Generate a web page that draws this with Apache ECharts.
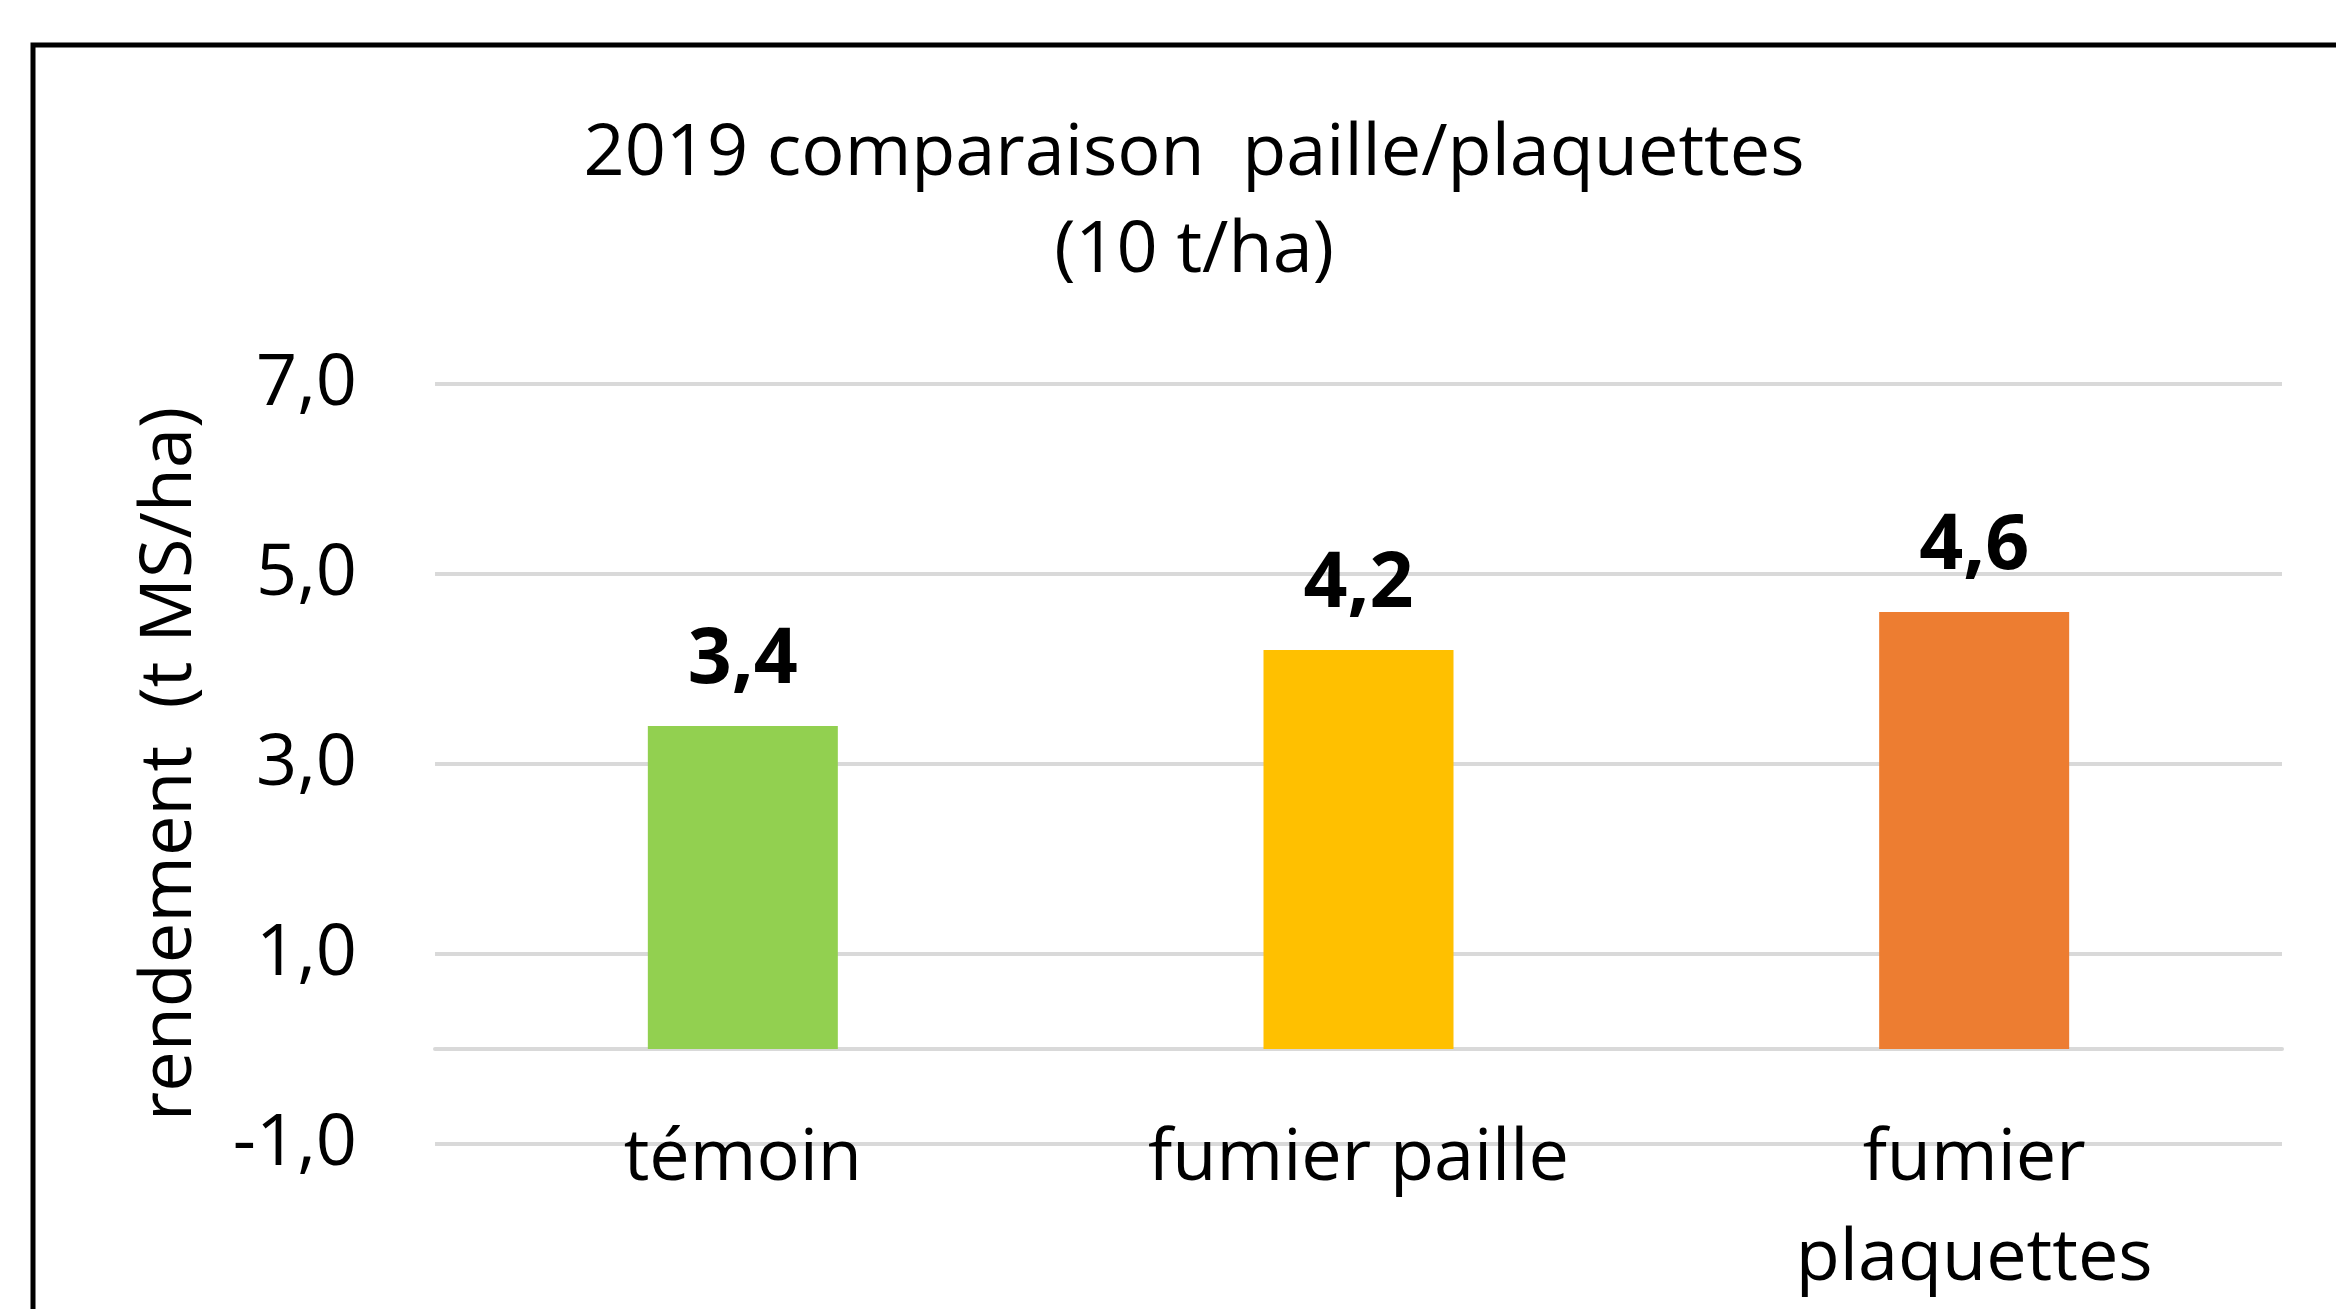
<!DOCTYPE html>
<html><head><meta charset="utf-8">
<script src="https://cdn.jsdelivr.net/npm/echarts@6/dist/echarts.min.js"></script>
<style>html,body{margin:0;padding:0;background:#fff}#c{width:2336px;height:1309px}</style>
</head><body><div id="c"></div>
<script>
const categories = ['témoin', 'fumier paille', 'fumier\nplaquettes'];
const values = [3.4, 4.2, 4.6];
const barColors = ['#92D050', '#FFC000', '#ED7D31'];
const titleText = '2019 comparaison  paille/plaquettes\n(10 t/ha)';
const yAxisName = 'rendement  (t MS/ha)';

const FONT = 'Open Sans';
const chart = echarts.init(document.getElementById('c'));
chart.setOption({
  backgroundColor: '#fff',
  animation: false,
  title: {
    text: titleText, left: 1189, top: 101, textAlign: 'center',
    textStyle: {fontFamily: FONT, fontSize: 72, fontWeight: 'normal', color: '#000', lineHeight: 97}
  },
  graphic: [{type: 'rect', shape: {x: 33, y: 45, width: 2500, height: 1500}, style: {fill: 'none', stroke: '#000', lineWidth: 5}, z: 100}],
  grid: {left: 435, right: 54, top: 384, bottom: 165, containLabel: false, outerBoundsMode: 'none'},
  xAxis: {
    type: 'category', data: categories,
    axisLine: {onZero: true, lineStyle: {color: '#D9D9D9', width: 4}},
    axisTick: {show: false},
    axisLabel: {margin: -35, fontFamily: FONT, fontSize: 72, color: '#000', lineHeight: 100}
  },
  yAxis: {
    type: 'value', min: -1, max: 7, interval: 1,
    name: yAxisName, nameLocation: 'middle', nameGap: 229, nameRotate: 90,
    nameTextStyle: {fontFamily: FONT, fontSize: 72, color: '#000'},
    axisLine: {show: false}, axisTick: {show: false},
    axisLabel: {margin: 78, fontFamily: FONT, fontSize: 72, color: '#000',
      formatter: v => (Math.round(v) % 2 !== 0) ? v.toFixed(1).replace('.', ',') : ''},
    splitLine: {lineStyle: {color: ['#D9D9D9', 'rgba(0,0,0,0)'], width: 4}}
  },
  series: [{
    type: 'bar', barWidth: 190,
    data: values.map((v, i) => ({value: v, itemStyle: {color: barColors[i]}})),
    label: {show: true, position: 'top', distance: 26, fontFamily: FONT, fontSize: 77, fontWeight: 'bold', color: '#000',
      formatter: p => p.value.toFixed(1).replace('.', ',')}
  }]
});
</script></body></html>
